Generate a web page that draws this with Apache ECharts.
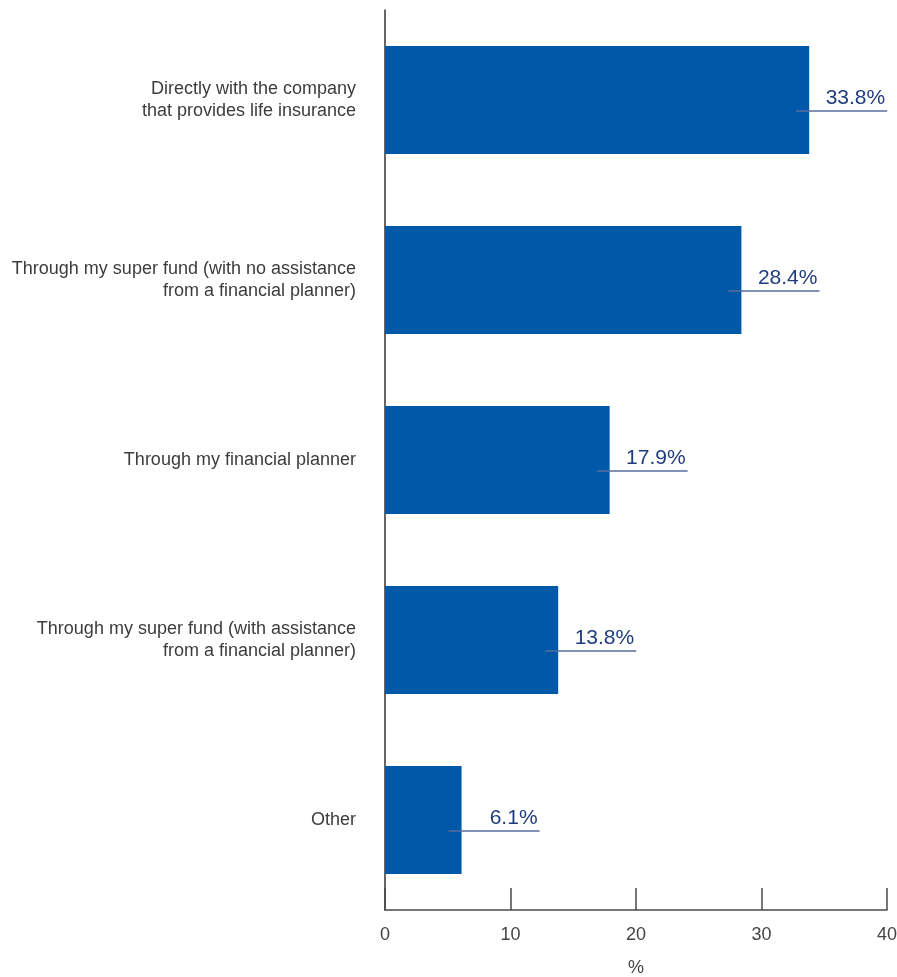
<!DOCTYPE html>
<html>
<head>
<meta charset="utf-8">
<script src="https://cdn.jsdelivr.net/npm/echarts@6/dist/echarts.min.js"></script>
<style>
html,body{margin:0;padding:0;background:#fff;}
#chart{width:897px;height:977px;}
</style>
</head>
<body>
<div id="chart"></div>
<script>
const categories = [
  "Directly with the company\nthat provides life insurance",
  "Through my super fund (with no assistance\nfrom a financial planner)",
  "Through my financial planner",
  "Through my super fund (with assistance\nfrom a financial planner)",
  "Other"
];
const values = [33.8, 28.4, 17.9, 13.8, 6.1];
const xTicks = { min: 0, max: 40, interval: 10 };
const axisName = "%";

const FONT = '"Liberation Sans", Arial, sans-serif';
const chart = echarts.init(document.getElementById('chart'));
chart.setOption({
  animation: false,
  grid: { left: 385, right: 10, top: 10, bottom: 67, containLabel: false, outerBoundsMode: 'none' },
  xAxis: {
    type: 'value', min: xTicks.min, max: xTicks.max, interval: xTicks.interval,
    name: axisName, nameLocation: 'middle', nameGap: 49,
    nameTextStyle: { fontFamily: FONT, fontSize: 18, color: '#444' },
    axisLine: { show: true, lineStyle: { color: '#4a4a4a', width: 1.5 } },
    axisTick: { show: true, inside: true, length: 22, lineStyle: { color: '#4a4a4a', width: 1.5 } },
    axisLabel: { fontFamily: FONT, fontSize: 18, color: '#444', margin: 16 },
    splitLine: { show: false }
  },
  yAxis: {
    type: 'category', data: categories, inverse: true,
    axisLine: { show: true, lineStyle: { color: '#333', width: 1.5 } },
    axisTick: { show: false },
    axisLabel: { fontFamily: FONT, fontSize: 18, color: '#3c3c3c', margin: 29, lineHeight: 22, align: 'right' }
  },
  series: [
    {
      type: 'bar', data: values, barCategoryGap: '40%',
      itemStyle: { color: '#0058a9' }, z: 2
    },
    {
      type: 'custom', z: 5,
      data: values.map((v, i) => [v, i]),
      renderItem: function (params, api) {
        const p = api.coord([api.value(0), api.value(1)]);
        return {
          type: 'group',
          children: [
            { type: 'line', shape: { x1: p[0] - 13, y1: p[1] + 11, x2: p[0] + 78, y2: p[1] + 11 },
              style: { stroke: '#5a6c9c', lineWidth: 1.5 } },
            { type: 'text', style: { x: p[0] + 76, y: p[1] + 9, text: api.value(0).toFixed(1) + '%',
              align: 'right', verticalAlign: 'bottom', fontFamily: FONT, fontSize: 21, fill: '#1f3d7c' } }
          ]
        };
      }
    }
  ]
});
</script>
</body>
</html>
